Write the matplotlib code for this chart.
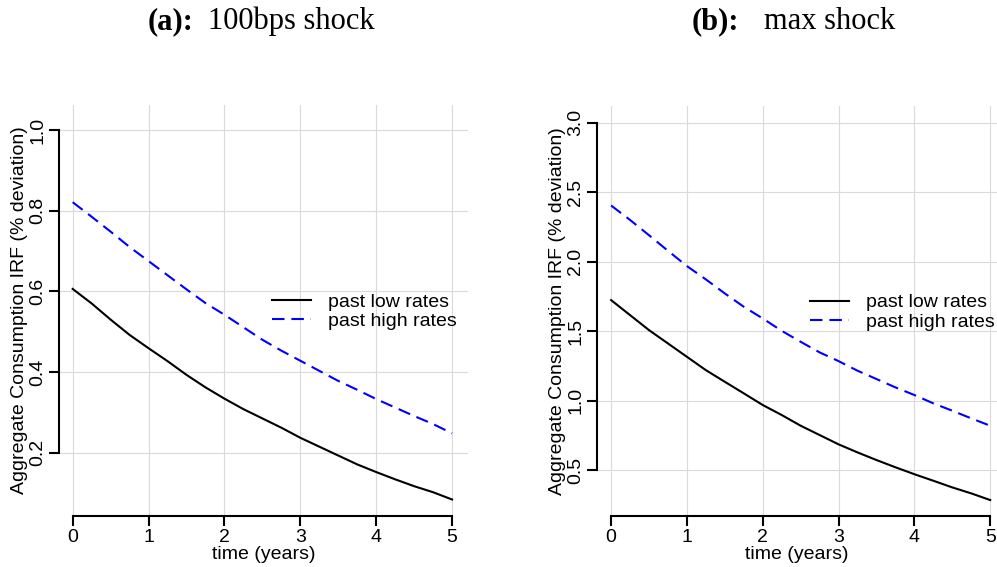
#IRF comparison: past low vs past high rates

import numpy as np
import matplotlib
import matplotlib.pyplot as plt

matplotlib.rc('font', family='Liberation Sans', size=14)

#Time grid (years, quarterly) and IRF values
t = [0, 0.25, 0.5, 0.75, 1.0, 1.25, 1.5, 1.75, 2.0, 2.25, 2.5,
     2.75, 3.0, 3.25, 3.5, 3.75, 4.0, 4.25, 4.5, 4.75, 5.0]

#(a) 100bps shock
low_a = [0.606, 0.570, 0.530, 0.492, 0.459, 0.427, 0.393, 0.362, 0.334, 0.308, 0.285,
         0.262, 0.237, 0.215, 0.193, 0.171, 0.152, 0.134, 0.117, 0.102, 0.084]
high_a = [0.821, 0.785, 0.748, 0.710, 0.675, 0.640, 0.605, 0.571, 0.542, 0.511, 0.480,
          0.453, 0.428, 0.403, 0.378, 0.356, 0.333, 0.312, 0.291, 0.271, 0.248]

#(b) max shock
low_b = [1.723, 1.615, 1.507, 1.411, 1.315, 1.219, 1.135, 1.052, 0.968, 0.896, 0.819,
         0.752, 0.685, 0.627, 0.572, 0.520, 0.470, 0.423, 0.375, 0.332, 0.284]
high_b = [2.404, 2.300, 2.190, 2.078, 1.968, 1.872, 1.771, 1.675, 1.591, 1.502, 1.423,
          1.347, 1.284, 1.215, 1.155, 1.095, 1.040, 0.980, 0.927, 0.872, 0.819]

xticks = [0, 1, 2, 3, 4, 5]
yticks_a = [0.2, 0.4, 0.6, 0.8, 1.0]
yticks_b = [0.5, 1.0, 1.5, 2.0, 2.5, 3.0]

fig = plt.figure(figsize=(9.97, 5.67), dpi=100)
ax1 = fig.add_axes([0.0592, 0.0899, 0.4102, 0.7249])
ax2 = fig.add_axes([0.5985, 0.0899, 0.4015, 0.7231])


def style(ax, yticks, xlim, ylim, leg_x):
    ax.set_xlim(*xlim)
    ax.set_ylim(*ylim)
    ax.set_xticks(xticks)
    ax.set_yticks(yticks)
    ax.set_yticklabels(['%.1f' % v for v in yticks])
    ax.grid(color='#dadada', lw=0.8)
    ax.set_axisbelow(True)
    for s in ['top', 'right']:
        ax.spines[s].set_visible(False)
    for s in ['left', 'bottom']:
        ax.spines[s].set_linewidth(1.5)
    ax.spines['left'].set_bounds(yticks[0], yticks[-1])
    ax.spines['bottom'].set_bounds(xticks[0], xticks[-1])
    ax.tick_params(direction='out', length=7, width=1.5, pad=2)
    ax.tick_params(axis='y', labelrotation=90)
    plt.setp(ax.get_yticklabels(), va='center')
    ax.set_xlabel('time (years)', labelpad=0)
    ax.set_ylabel('Aggregate Consumption IRF (% deviation)', labelpad=1)
    ax.legend(loc='center left', bbox_to_anchor=(leg_x, 0.497), frameon=False,
              handlelength=2.0, handletextpad=0.9, labelspacing=0.08,
              borderpad=0, borderaxespad=0)


#Plotting Block:
dash = (0, (6, 3.3))
ax1.plot(t, low_a, color='black', lw=1.5, label='past low rates')
ax1.plot(t, high_a, color='#0000ff', lw=1.5, ls=dash, label='past high rates')
style(ax1, yticks_a, (-0.18, 5.21), (0.043, 1.062), 0.521)

ax2.plot(t, low_b, color='black', lw=1.5, label='past low rates')
ax2.plot(t, high_b, color='#0000ff', lw=1.5, ls=dash, label='past high rates')
style(ax2, yticks_b, (-0.19, 5.09), (0.169, 3.12), 0.533)

#Panel titles
ty = 1 - 29/567
fig.text(148/997, ty, '(a):', family='Liberation Serif', weight='bold', size=22, va='baseline')
fig.text(208/997, ty, '100bps shock', family='Liberation Serif', size=22, va='baseline')
fig.text(692/997, ty, '(b):', family='Liberation Serif', weight='bold', size=22, va='baseline')
fig.text(764/997, ty, 'max shock', family='Liberation Serif', size=22, va='baseline')

plt.savefig('out.png', dpi=100)
